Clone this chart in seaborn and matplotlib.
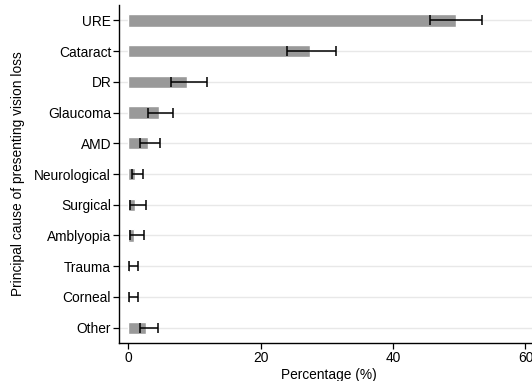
import matplotlib
matplotlib.use("Agg")
import matplotlib.pyplot as plt
import seaborn as sns
import numpy as np

# Principal causes of presenting vision loss, percentage with 95% CI
causes = ["URE", "Cataract", "DR", "Glaucoma", "AMD", "Neurological",
          "Surgical", "Amblyopia", "Trauma", "Corneal", "Other"]
percent = [49.5, 27.5, 8.8, 4.6, 2.9, 1.0, 1.0, 0.9, 0.2, 0.25, 2.7]
ci_low = [45.6, 24.0, 6.5, 3.0, 1.8, 0.5, 0.3, 0.3, 0.1, 0.1, 1.7]
ci_high = [53.5, 31.4, 11.8, 6.8, 4.75, 2.2, 2.6, 2.3, 1.4, 1.5, 4.5]
x_ticks = [0, 20, 40, 60]

sns.set_style("white")
plt.rcParams["font.family"] = ["Liberation Sans", "DejaVu Sans"]
plt.rcParams["text.color"] = "black"
plt.rcParams["axes.labelcolor"] = "black"
plt.rcParams["xtick.color"] = "black"
plt.rcParams["ytick.color"] = "black"

fs = 9.9

fig = plt.figure(figsize=(5.32, 3.81), dpi=100)
ax = fig.add_axes([0.2246, 0.0997, 0.788, 0.887])

for i in range(len(causes)):
    ax.axhline(i, color="#e8e8e8", lw=1.0, zorder=0)

sns.barplot(x=percent, y=causes, orient="h", color="#999999",
            saturation=1, width=0.4, errorbar=None, ax=ax, zorder=2)

pos = np.arange(len(causes))
xerr = [np.array(percent) - np.array(ci_low), np.array(ci_high) - np.array(percent)]
ax.errorbar(percent, pos, xerr=xerr, fmt="none", ecolor="black",
            elinewidth=1.1, capsize=3.5, capthick=1.1, zorder=3)

ax.set_xlim(-1.36, 62)
ax.set_ylim(len(causes) - 0.5, -0.5)
ax.set_xticks(x_ticks)
ax.set_xticklabels([str(t) for t in x_ticks])
ax.set_xlabel("Percentage (%)", fontsize=fs, labelpad=2)
ax.set_ylabel("Principal cause of presenting vision loss", fontsize=fs, labelpad=7)

for s in ["top", "right"]:
    ax.spines[s].set_visible(False)
for s in ["left", "bottom"]:
    ax.spines[s].set_color("black")
    ax.spines[s].set_linewidth(1.0)

ax.tick_params(axis="both", which="major", direction="out", length=4,
               width=0.9, color="black", labelcolor="black", labelsize=fs,
               pad=2, left=True, bottom=True)

fig.savefig("out.png", dpi=100)
